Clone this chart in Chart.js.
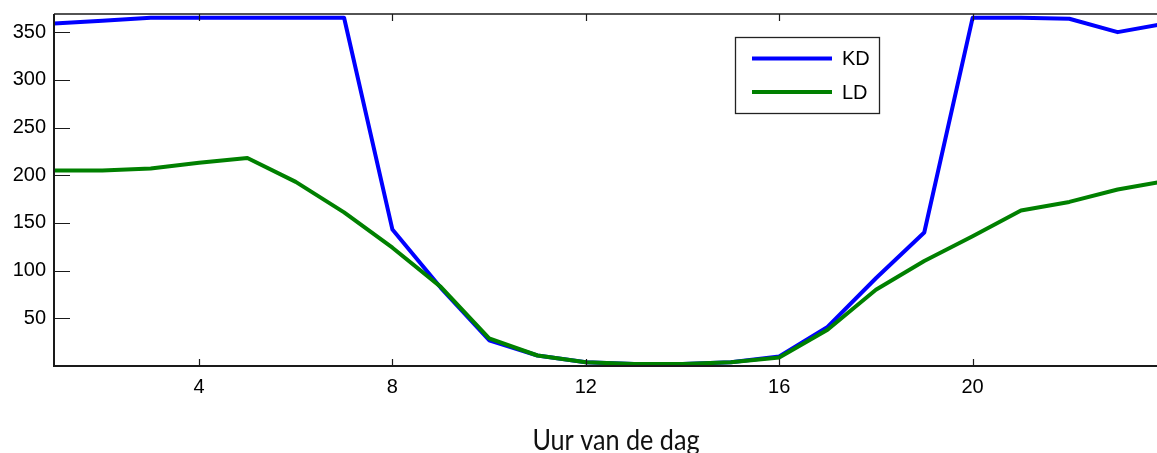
<!DOCTYPE html>
<html>
<head>
<meta charset="utf-8">
<script src="https://cdn.jsdelivr.net/npm/chart.js@4/dist/chart.umd.min.js"></script>
<style>
  html, body { margin: 0; padding: 0; background: #fff; overflow: hidden; width: 1157px; height: 453px; }
  #wrap { position: relative; width: 1172px; height: 453px; }
</style>
</head>
<body>
<div id="wrap"><canvas id="c" width="1172" height="453"></canvas></div>
<script>
// Hour of the day
const hours = [1, 2, 3, 4, 5, 6, 7, 8, 9, 10, 11, 12, 13, 14, 15, 16, 17, 18, 19, 20, 21, 22, 23, 24];
// KD per hour
const kdValues = [359, 362, 365, 365, 365, 365, 365, 143, 82, 27, 11, 4, 2, 2, 4, 10, 41, 92, 140, 365, 365, 364, 350, 359];
// LD per hour
const ldValues = [205, 205, 207, 213, 218, 193, 161, 124, 83, 29, 11, 4, 2, 2, 4, 9, 38, 80, 110, 136, 163, 172, 185, 194];

const seriesLabels = ['KD', 'LD'];
const seriesColors = ['#0000ff', '#008000'];

const xTicks = [4, 8, 12, 16, 20];
const yTicks = [50, 100, 150, 200, 250, 300, 350];
const xTitle = 'Uur van de dag';

const tickFont = { family: "'Liberation Sans', Arial, sans-serif", size: 20 };
const axisColor = '#1a1a1a';

// Box frame, inward tick marks, axis title and the legend box
const framePlugin = {
  id: 'frame',
  afterDatasetsDraw(chart) {
    const { ctx, chartArea: a, scales: { x, y } } = chart;
    ctx.save();
    ctx.strokeStyle = axisColor;
    ctx.lineCap = 'butt';

    // tick marks pointing into the plot
    ctx.lineWidth = 1.2;
    ctx.beginPath();
    x.ticks.forEach(t => {
      const px = Math.round(x.getPixelForValue(t.value)) + 0.5;
      ctx.moveTo(px, a.bottom); ctx.lineTo(px, a.bottom - 7);
      ctx.moveTo(px, a.top); ctx.lineTo(px, a.top + 7);
    });
    y.ticks.forEach(t => {
      const py = Math.round(y.getPixelForValue(t.value)) + 0.5;
      ctx.moveTo(a.left, py); ctx.lineTo(a.left + 16, py);
    });
    ctx.stroke();

    // top border
    ctx.lineWidth = 1.4;
    ctx.beginPath();
    ctx.moveTo(a.left, a.top); ctx.lineTo(a.right, a.top);
    ctx.stroke();

    // left and bottom axes
    ctx.lineWidth = 2;
    ctx.beginPath();
    ctx.moveTo(a.left, a.top); ctx.lineTo(a.left, a.bottom); ctx.lineTo(a.right, a.bottom);
    ctx.stroke();

    // x axis title, set in a narrow face
    ctx.save();
    ctx.translate(616, 450);
    ctx.scale(0.9, 1);
    ctx.fillStyle = '#111';
    ctx.font = "28px Lato, 'Liberation Sans', sans-serif";
    ctx.textAlign = 'center';
    ctx.textBaseline = 'alphabetic';
    ctx.fillText(xTitle, 0, 0);
    ctx.restore();

    // legend
    const box = { x: 735.5, y: 37.5, w: 144, h: 76 };
    ctx.fillStyle = '#fff';
    ctx.fillRect(box.x, box.y, box.w, box.h);
    ctx.lineWidth = 1.3;
    ctx.strokeStyle = '#222';
    ctx.strokeRect(box.x, box.y, box.w, box.h);
    const rows = [58.5, 92];
    chart.data.datasets.forEach((ds, i) => {
      const ly = rows[i];
      ctx.strokeStyle = ds.borderColor;
      ctx.lineWidth = 4;
      ctx.beginPath();
      ctx.moveTo(752, ly); ctx.lineTo(832, ly);
      ctx.stroke();
      ctx.fillStyle = '#000';
      ctx.font = `${tickFont.size}px ${tickFont.family}`;
      ctx.textAlign = 'left';
      ctx.textBaseline = 'middle';
      ctx.fillText(ds.label, 842, ly + 1);
    });
    ctx.restore();
  }
};

const setTicks = list => scale => { scale.ticks = list.map(v => ({ value: v })); };

new Chart(document.getElementById('c'), {
  type: 'line',
  data: {
    labels: hours,
    datasets: [
      { label: seriesLabels[0], data: hours.map((h, i) => ({ x: h, y: kdValues[i] })), borderColor: seriesColors[0], order: 1 },
      { label: seriesLabels[1], data: hours.map((h, i) => ({ x: h, y: ldValues[i] })), borderColor: seriesColors[1], order: 0 }
    ]
  },
  options: {
    responsive: false,
    animation: false,
    devicePixelRatio: 1,
    layout: { padding: { top: 14, right: 6, left: 0, bottom: 0 } },
    elements: {
      line: { borderWidth: 4, tension: 0, fill: false, borderJoinStyle: 'round', borderCapStyle: 'butt' },
      point: { radius: 0, hoverRadius: 0 }
    },
    plugins: { legend: { display: false }, tooltip: { enabled: false } },
    scales: {
      x: {
        type: 'linear', min: 1, max: 24,
        afterBuildTicks: setTicks(xTicks),
        afterFit: s => { s.height = 87; s.paddingLeft = 0; s.paddingRight = 0; },
        grid: { display: false, drawTicks: false },
        border: { display: false },
        ticks: { font: tickFont, color: '#000', padding: 9, maxRotation: 0, autoSkip: false }
      },
      y: {
        type: 'linear', min: 0, max: 369,
        afterBuildTicks: setTicks(yTicks),
        afterFit: s => { s.width = 54; s.paddingTop = 0; s.paddingBottom = 0; },
        grid: { display: false, drawTicks: false },
        border: { display: false },
        ticks: { font: tickFont, color: '#000', padding: 8 }
      }
    }
  },
  plugins: [framePlugin]
});
</script>
</body>
</html>
